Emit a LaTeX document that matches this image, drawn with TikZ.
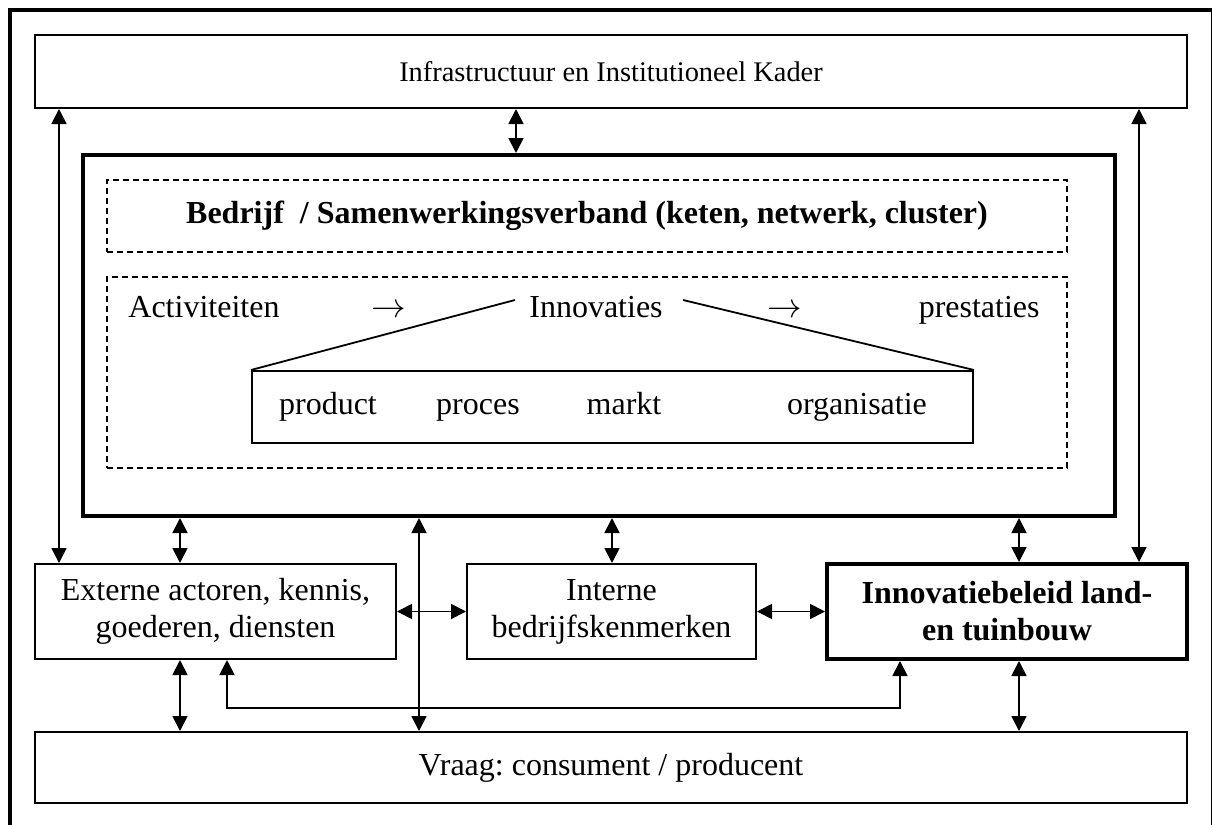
\documentclass[tikz,border=0pt]{standalone}
\usepackage{fontspec}
\setmainfont{Liberation Serif}
\usetikzlibrary{arrows.meta}
\frenchspacing
\begin{document}
\begin{tikzpicture}[x=0.5pt,y=-0.5pt,
  box/.style={draw, line width=1pt, inner sep=0pt, font=\fontsize{16}{18.5}\selectfont, align=center},
  thickbox/.style={draw, line width=2pt, inner sep=0pt, font=\fontsize{16}{18.5}\selectfont\bfseries, align=center},
  dashbox/.style={draw, line width=0.8pt, dash pattern=on 3pt off 2pt, inner sep=0pt, font=\fontsize{16}{18.5}\selectfont\bfseries, align=center},
  txt/.style={inner sep=0pt, font=\fontsize{16}{18.5}\selectfont},
  tip/.tip={Triangle[length=7.5pt,width=7.5pt]},
  conn/.style={line width=0.9pt, tip-tip},
  plain/.style={line width=0.9pt}]
\useasboundingbox (0,0) rectangle (1212,825);
\clip (0,0) rectangle (1212,825);
\fill[white] (0,0) rectangle (1212,825);
% outer frame
\draw[line width=2pt] (10,10) rectangle (1212.5,840);
% boxes
\node[box, minimum width=576pt, minimum height=36.5pt, font=\fontsize{14.2}{17}\selectfont] (top) at (611,71.5) {Infrastructuur en Institutioneel Kader};
\node[thickbox, minimum width=516pt, minimum height=180.5pt] (firm) at (599,335.5) {};
\node[dashbox, minimum width=480pt, minimum height=36pt] (bedr) at (587,216) {Bedrijf\ \ / Samenwerkingsverband (keten, netwerk, cluster)};
\node[dashbox, minimum width=480pt, minimum height=95.5pt] (act) at (587,372.5) {};
\node[box, minimum width=360.5pt, minimum height=36pt] (prod) at (612.5,407) {};
\node[box, minimum width=180.5pt, minimum height=47.5pt] (ext) at (215.5,611.5) {Externe actoren, kennis,\\goederen, diensten};
\node[box, minimum width=144.5pt, minimum height=47.5pt] (int) at (611.5,611.5) {Interne\\bedrijfskenmerken};
\node[thickbox, minimum width=180pt, minimum height=47.5pt] (innov) at (1007,611.5) {Innovatiebeleid land-\\en tuinbouw};
\node[box, minimum width=576pt, minimum height=35.5pt] (vraag) at (611,767.5) {Vraag: consument / producent};
% texts in activity box
\node[txt, anchor=base west] (activ) at (128,317) {Activiteiten};
\node[txt, anchor=base] (ar1) at (389,317) {$\rightarrow$};
\node[txt, anchor=base] (innovt) at (596,317) {Innovaties};
\node[txt, anchor=base] (ar2) at (785,317) {$\rightarrow$};
\node[txt, anchor=base east] (prest) at (1040,317) {prestaties};
\node[txt, anchor=base] (tprod) at (328,414) {product};
\node[txt, anchor=base] (tproc) at (478,414) {proces};
\node[txt, anchor=base] (tmark) at (624,414) {markt};
\node[txt, anchor=base] (torg) at (857,414) {organisatie};
\coordinate (il) at (515,300);
\coordinate (ir) at (683,300);
\draw[plain] (il) -- (prod.north west);
\draw[plain] (ir) -- (prod.north east);
% x / y positions
\coordinate (X59) at (59,0);
\coordinate (X180) at (180,0);
\coordinate (X227) at (227,0);
\coordinate (X419) at (419,0);
\coordinate (X516) at (516,0);
\coordinate (X612) at (612,0);
\coordinate (X900) at (900,0);
\coordinate (X1019) at (1019,0);
\coordinate (X1139) at (1139,0);
\coordinate (Y708) at (0,708);
% connectors
\draw[conn] (top.south -| X516) -- (firm.north -| X516);
\draw[conn] (top.south -| X59) -- (ext.north -| X59);
\draw[conn] (top.south -| X1139) -- (innov.north -| X1139);
\draw[conn] (firm.south -| X180) -- (ext.north -| X180);
\draw[conn] (firm.south -| X612) -- (int.north -| X612);
\draw[conn] (firm.south -| X1019) -- (innov.north -| X1019);
\draw[conn] (firm.south -| X419) -- (vraag.north -| X419);
\draw[conn] (ext.east) -- (int.west);
\draw[conn] (int.east) -- (innov.west);
\draw[conn] (ext.south -| X180) -- (vraag.north -| X180);
\draw[conn] (innov.south -| X1019) -- (vraag.north -| X1019);
\draw[conn] (ext.south -| X227) -- (X227 |- Y708) -- (X900 |- Y708) -- (innov.south -| X900);
\end{tikzpicture}
\end{document}
